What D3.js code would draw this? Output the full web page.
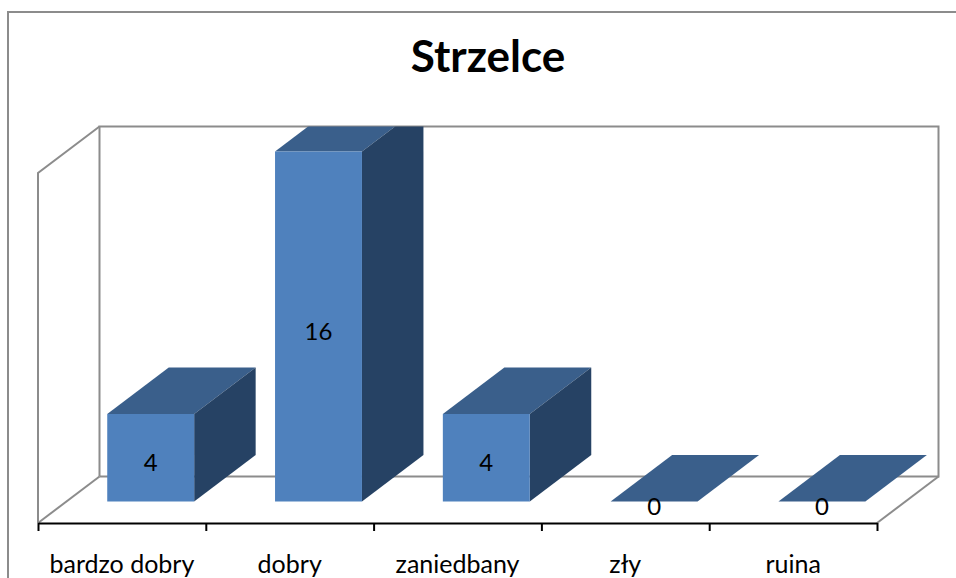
<!DOCTYPE html>
<html>
<head>
<meta charset="utf-8">
<script src="https://cdn.jsdelivr.net/npm/d3@7"></script>
<style>
  html, body { margin: 0; padding: 0; background: #fff; }
  svg { display: block; }
  text { font-family: Lato, "Open Sans", sans-serif; fill: #000; }
</style>
</head>
<body>
<div id="chart"></div>
<script>
// data
const chartTitle = "Strzelce";
const categories = ["bardzo dobry", "dobry", "zaniedbany", "zły", "ruina"];
const values = [4, 16, 4, 0, 0];
const maxValue = 16;

const width = 956, height = 578;
const wallColor = "#8c8c8c";
const frontColor = "#4f81bd", topColor = "#3a5f8b", sideColor = "#264264";

// front plane of the box, the back wall is shifted by depth
const left = 38, right = 877, floorY = 523, ceilY = 173;
const depth = { x: 61.5, y: 46.5 };
// bars sit part way into the box
const barShift = { x: 28.8, y: 21.5 };

const svg = d3.select("#chart")
  .append("svg")
  .attr("width", width)
  .attr("height", height)
  .attr("viewBox", [0, 0, width, height]);

const xScale = d3.scaleBand()
  .domain(categories)
  .range([left, right])
  .paddingInner(0.482)
  .paddingOuter(0.241);

const yScale = d3.scaleLinear()
  .domain([0, maxValue])
  .range([floorY, ceilY]);

// outer chart border, runs off the right and bottom of the picture
svg.append("path")
  .attr("d", `M8,${height + 2}V12H${width + 2}`)
  .attr("fill", "none")
  .attr("stroke", wallColor)
  .attr("stroke-width", 2);

// walls and floor
const line = d3.line();
const backX0 = left + depth.x, backX1 = right + depth.x;
const backTop = ceilY - depth.y, backBottom = floorY - depth.y;
const wallLines = [
  [[backX0, backBottom], [backX0, backTop], [backX1, backTop], [backX1, backBottom], [backX0, backBottom]],
  [[left, floorY], [left, ceilY], [backX0, backTop]],
  [[left, floorY], [backX0, backBottom]],
  [[right, floorY], [backX1, backBottom]]
];
svg.append("g").selectAll("path")
  .data(wallLines)
  .enter()
    .append("path")
    .attr("d", line)
    .attr("fill", "none")
    .attr("stroke", wallColor)
    .attr("stroke-width", 2);

// bars get cut off at the top of the back wall
svg.append("clipPath")
  .attr("id", "plot-clip")
  .append("rect")
  .attr("x", 0)
  .attr("y", backTop)
  .attr("width", width)
  .attr("height", height - backTop);

const bars = svg.append("g")
  .attr("clip-path", "url(#plot-clip)")
  .selectAll("g")
  .data(values)
  .enter()
    .append("g")
    .attr("transform", `translate(${barShift.x},${-barShift.y})`);

const barX = (d, i) => xScale(categories[i]);
const bw = xScale.bandwidth();

// top face
bars.append("path")
  .attr("fill", topColor)
  .attr("d", (d, i) => {
    const x = barX(d, i), y = yScale(d);
    return line([[x, y], [x + bw, y], [x + bw + depth.x, y - depth.y], [x + depth.x, y - depth.y]]) + "Z";
  });

// side face
bars.filter(d => d > 0).append("path")
  .attr("fill", sideColor)
  .attr("d", (d, i) => {
    const x = barX(d, i) + bw, y = yScale(d);
    return line([[x, y], [x + depth.x, y - depth.y], [x + depth.x, floorY - depth.y], [x, floorY]]) + "Z";
  });

// front face
bars.filter(d => d > 0).append("rect")
  .attr("x", (d, i) => barX(d, i))
  .attr("y", d => yScale(d))
  .attr("width", bw)
  .attr("height", d => floorY - yScale(d))
  .attr("fill", frontColor);

// value labels, drawn after the bars
svg.append("g")
  .selectAll("text")
  .data(values)
  .enter()
    .append("text")
    .attr("x", (d, i) => barX(d, i) + bw / 2 + barShift.x)
    .attr("y", d => (yScale(d) + floorY) / 2 - barShift.y + 13)
    .attr("text-anchor", "middle")
    .attr("font-size", 24)
    .text(d => d);

// axis line and ticks at the category boundaries
const tickScale = d3.scaleLinear()
  .domain([0, categories.length])
  .range([left, right]);

const tickAxis = svg.append("g")
  .attr("transform", `translate(0,${floorY})`)
  .call(d3.axisBottom(tickScale)
    .tickValues(d3.range(categories.length + 1))
    .tickSize(8)
    .tickSizeOuter(0)
    .tickFormat(""));
tickAxis.selectAll("line").attr("stroke", "#000").attr("stroke-width", 2);
tickAxis.select(".domain").attr("stroke", "#000").attr("stroke-width", 2);

// category labels
const labelAxis = svg.append("g")
  .attr("transform", `translate(0,${floorY})`)
  .call(d3.axisBottom(xScale).tickSize(0).tickPadding(32));
labelAxis.select(".domain").remove();
labelAxis.selectAll("text")
  .attr("font-size", 25)
  .style("font-family", "Lato, sans-serif")
  .attr("fill", "#000");

// title
svg.append("text")
  .attr("x", 488)
  .attr("y", 72)
  .attr("text-anchor", "middle")
  .attr("font-size", 44)
  .attr("font-weight", "bold")
  .text(chartTitle);
</script>
</body>
</html>
